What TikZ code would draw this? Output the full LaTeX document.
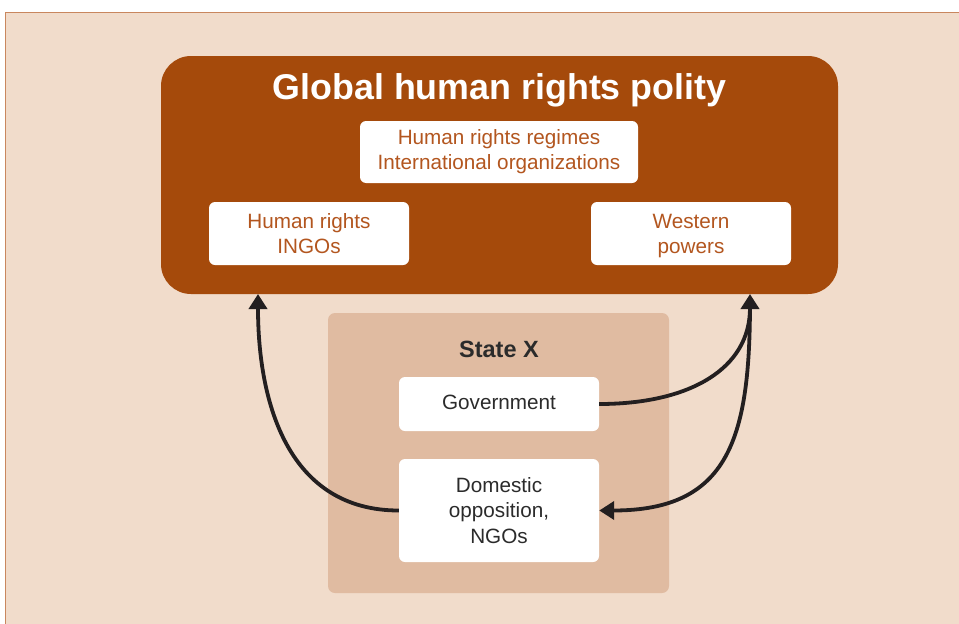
\documentclass[tikz,border=0pt]{standalone}
\usepackage{fontspec}
\setmainfont{Liberation Sans}
\usetikzlibrary{arrows.meta}
\definecolor{bg}{HTML}{F1DCCB}
\definecolor{frameline}{HTML}{C9875E}
\definecolor{polbrown}{HTML}{A54A0B}
\definecolor{boxtext}{HTML}{B3561F}
\definecolor{statefill}{HTML}{E0BBA1}
\definecolor{darktext}{HTML}{2B2B2B}
\definecolor{arrowcol}{HTML}{231F20}
\newcommand{\nodesc}[1]{\raisebox{0pt}[\height][0pt]{#1}}
\tikzset{
  whitebox/.style={draw=none, fill=white, rounded corners=6pt, align=center, inner sep=0pt},
  innertext/.style={text=boxtext, font=\fontsize{20.7}{25}\selectfont},
  statetext/.style={text=darktext, font=\fontsize{20.7}{25.5}\selectfont},
  link/.style={draw=arrowcol, line width=3.8pt, -{Triangle[width=18pt,length=15pt]}}
}
\begin{document}
\begin{tikzpicture}[x=1pt,y=-1pt]
\useasboundingbox (0,0) rectangle (959,624);
\fill[white] (0,0) rectangle (959,624);
\fill[bg] (5,12) rectangle (959,624);
\draw[frameline, line width=1.2pt] (5.6,624) -- (5.6,12.6) -- (959,12.6);

\node[fill=polbrown, rounded corners=30pt, minimum width=677pt, minimum height=238pt, inner sep=0pt] (polity) at (499.5,175) {};
\node[text=white, font=\bfseries\fontsize{35.8}{38}\selectfont] (title) at (499.5,90) {Global human rights polity};
\node[whitebox, innertext, minimum width=278pt, minimum height=62pt] (regimes) at (499,152) {Human rights regimes\\International organizations};
\node[whitebox, innertext, minimum width=200pt, minimum height=63pt] (ingos) at (309,233.5) {Human rights\\INGOs};
\node[whitebox, innertext, minimum width=200pt, minimum height=63pt] (western) at (691,233.5) {Western\\\nodesc{powers}};

\node[fill=statefill, rounded corners=7pt, minimum width=341pt, minimum height=280pt, inner sep=0pt] (state) at (498.5,453) {};
\node[text=darktext, font=\bfseries\fontsize{23.5}{26}\selectfont] (statex) at (499,349) {State X};
\node[whitebox, statetext, minimum width=200pt, minimum height=54pt] (gov) at (499,404) {\raisebox{3pt}{Government}};
\node[whitebox, statetext, minimum width=200pt, minimum height=103pt] (dom) at (499,510.5) {Domestic\\opposition,\\NGOs};

\coordinate (inL) at (258,294);
\coordinate (inR) at (750,294);

\draw[link] (dom.west) .. controls +(-110,0) and +(0,110) .. (inL);
\draw[link] (gov.east) .. controls +(90,0) and +(0,75) .. (inR);
\draw[link] ([yshift=-8pt]inR) .. controls +(0,136) and +(130,0) .. (dom.east);
\end{tikzpicture}
\end{document}
